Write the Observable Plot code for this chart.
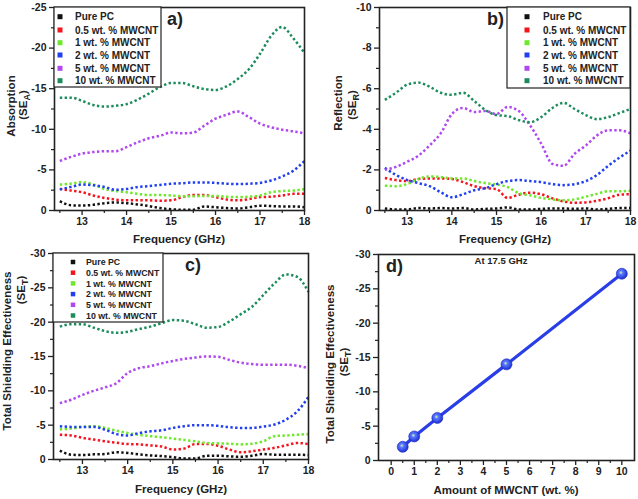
<!DOCTYPE html>
<html><head><meta charset="utf-8">
<script src="https://cdn.jsdelivr.net/npm/d3@7"></script>
<script src="https://cdn.jsdelivr.net/npm/@observablehq/plot@0.6"></script>
<style>
body{margin:0;background:#fff;}
#wrap{position:relative;width:638px;height:499px;overflow:hidden;background:#fff;}
#wrap svg{position:absolute;}
</style></head><body><div id="wrap"></div>
<script>
// ---------- data ----------
const seriesNames = ["Pure PC","0.5 wt. % MWCNT","1 wt. % MWCNT","2 wt. % MWCNT","5 wt. % MWCNT","10 wt. % MWCNT"];
const seriesColors = ["#111111","#f5141e","#6ee82a","#2240f0","#b048f0","#1c8c5c"];
const freq = [12.5,12.75,13,13.25,13.5,13.75,14,14.25,14.5,14.75,15,15.25,15.5,15.75,16,16.25,16.5,16.75,17,17.25,17.5,17.75,18];
const freqTicks = [13,14,15,16,17,18];

// a) Absorption SE_A
const absPure = [-1.15,-0.65,-0.6,-0.7,-0.9,-1.0,-0.9,-0.75,-0.55,-0.3,-0.15,-0.1,-0.1,-0.5,-0.4,-0.3,-0.25,-0.4,-0.6,-0.55,-0.5,-0.5,-0.4];
const abs05 = [-2.65,-2.45,-2.25,-1.85,-1.55,-1.35,-1.25,-1.25,-1.25,-1.2,-1.25,-1.65,-1.9,-1.9,-1.65,-1.35,-1.25,-1.4,-1.65,-1.7,-1.85,-2.05,-2.05];
const abs1 = [-3.2,-3.3,-3.5,-3.2,-2.65,-2.4,-2.25,-2.05,-1.9,-1.9,-1.85,-1.75,-1.75,-1.8,-1.8,-1.7,-1.65,-1.7,-1.85,-2.25,-2.4,-2.45,-2.65];
const abs2 = [-2.6,-2.9,-3.2,-3.1,-2.9,-2.55,-2.65,-2.9,-3.0,-3.15,-3.3,-3.35,-3.45,-3.45,-3.4,-3.3,-3.25,-3.3,-3.4,-3.7,-4.2,-4.9,-6.1];
const abs5 = [-6.1,-6.6,-7.0,-7.2,-7.3,-7.3,-7.8,-8.4,-8.9,-9.2,-9.6,-9.5,-9.6,-10.45,-11.3,-11.8,-12.2,-11.5,-10.7,-10.25,-9.95,-9.75,-9.5];
const abs10 = [-13.9,-13.9,-13.5,-13.0,-12.8,-12.9,-13.1,-13.65,-14.4,-15.2,-15.7,-15.7,-15.3,-14.95,-14.85,-15.3,-16.2,-17.4,-19.3,-21.5,-22.6,-21.2,-19.4];

// b) Reflection SE_R
const refPure = [-0.1,-0.05,-0.05,-0.12,-0.1,-0.12,-0.1,-0.12,-0.05,-0.08,-0.1,-0.15,-0.05,-0.05,-0.08,-0.1,-0.1,-0.08,-0.1,-0.05,-0.08,-0.12,-0.12];
const ref05 = [-1.6,-1.5,-1.45,-1.55,-1.58,-1.58,-1.55,-1.4,-1.2,-1.1,-1.05,-0.62,-0.78,-0.88,-0.8,-0.6,-0.45,-0.38,-0.4,-0.48,-0.6,-0.78,-0.8];
const ref1 = [-1.22,-1.2,-1.3,-1.55,-1.68,-1.65,-1.58,-1.58,-1.45,-1.35,-1.28,-1.15,-0.85,-0.75,-0.62,-0.55,-0.5,-0.55,-0.68,-0.82,-0.95,-0.95,-0.97];
const ref2 = [-2.1,-1.75,-1.5,-1.35,-1.2,-0.9,-0.65,-0.8,-1.0,-1.1,-1.3,-1.45,-1.5,-1.45,-1.4,-1.3,-1.25,-1.3,-1.45,-1.75,-2.2,-2.6,-2.95];
const ref5 = [-2.0,-2.15,-2.4,-2.7,-3.2,-3.8,-4.75,-5.05,-4.85,-4.9,-4.75,-5.1,-4.9,-4.2,-3.3,-2.3,-2.2,-2.8,-3.2,-3.7,-3.95,-3.95,-3.8];
const ref10 = [-5.45,-5.8,-6.2,-6.3,-6.1,-5.8,-5.7,-5.8,-5.4,-4.95,-4.7,-4.65,-4.45,-4.35,-4.6,-5.05,-5.3,-5.0,-4.7,-4.5,-4.6,-4.8,-5.0];

// c) Total shielding SE_T
const totPure = [-1.3,-0.7,-0.65,-0.75,-0.8,-1.05,-0.95,-0.75,-0.6,-0.5,-0.35,-0.15,-0.15,-0.55,-0.55,-0.45,-0.4,-0.55,-0.8,-0.7,-0.7,-0.7,-0.65];
const tot05 = [-3.6,-3.5,-3.15,-2.9,-2.65,-2.45,-2.25,-2.2,-2.05,-1.9,-1.45,-1.6,-2.25,-2.25,-2.0,-1.45,-1.05,-1.2,-1.45,-1.7,-2.05,-2.4,-2.25];
const tot1 = [-4.4,-4.5,-4.75,-4.85,-4.6,-4.2,-3.85,-3.6,-3.4,-3.25,-3.05,-2.85,-2.65,-2.4,-2.35,-2.3,-2.2,-2.3,-2.65,-3.4,-3.5,-3.6,-3.7];
const tot2 = [-4.85,-4.75,-4.75,-4.75,-4.35,-3.7,-3.5,-3.85,-4.1,-4.25,-4.6,-4.85,-5.0,-5.0,-4.9,-4.7,-4.6,-4.6,-4.8,-5.1,-5.8,-7.0,-9.1];
const tot5 = [-8.2,-8.7,-9.4,-10.0,-10.5,-11.1,-12.6,-13.3,-13.6,-14.0,-14.35,-14.65,-14.85,-15.0,-14.95,-14.5,-14.1,-13.9,-13.8,-13.8,-13.8,-13.65,-13.3];
const tot10 = [-19.35,-19.7,-19.7,-19.2,-18.7,-18.45,-18.6,-19.0,-19.35,-19.85,-20.3,-20.2,-19.7,-19.2,-19.3,-20.1,-21.15,-22.25,-23.95,-25.65,-26.95,-26.6,-24.4];

// d) SE_T at 17.5 GHz vs loading
const wtAmount = [0.5, 1, 2, 5, 10];
const seT175 = [-2.0, -3.5, -6.2, -14.0, -27.2];
const wtTicks = [0,1,2,3,4,5,6,7,8,9,10];

// ---------- drawing ----------
const FONT = '"Liberation Sans", Arial, Helvetica, sans-serif';
const INK = "#222";
const wrap = document.getElementById("wrap");

function axes(xTicks, xMinor, yTicks, yMinor) {
  const fmt = d => String(d);
  return [
    Plot.axisX({ticks: xTicks, tickSize: 5, tickPadding: 2, tickFormat: fmt, label: null, strokeWidth: 1.3}),
    Plot.axisX({ticks: xMinor, tickSize: 3, tickFormat: () => "", label: null, strokeWidth: 1.2}),
    Plot.axisY({ticks: yTicks, tickSize: 5, tickPadding: 3, tickFormat: fmt, label: null, strokeWidth: 1.3}),
    Plot.axisY({ticks: yMinor, tickSize: 3, tickFormat: () => "", label: null, strokeWidth: 1.2})
  ];
}

function seriesLines(xs, list) {
  return list.map((vals, i) => Plot.line(vals.map((v, j) => ({f: xs[j], v, s: seriesNames[i]})), {
    x: "f", y: "v", stroke: seriesColors[i], strokeWidth: 2.5,
    strokeDasharray: "2.4,2.4", strokeLinecap: "butt", curve: "monotone-x"
  }));
}

function place(svg, left, top) {
  svg.style.left = left + "px";
  svg.style.top = top + "px";
  wrap.appendChild(svg);
  return d3.select(svg);
}

function yTitle(sel, x1, y1, line1, x2, y2, sub) {
  sel.append("text").attr("transform", `translate(${x1},${y1}) rotate(-90)`)
    .attr("text-anchor", "middle").attr("dy", "0.35em")
    .style("font", `bold 11.5px ${FONT}`).attr("fill", INK).text(line1);
  const t = sel.append("text").attr("transform", `translate(${x2},${y2}) rotate(-90)`)
    .attr("text-anchor", "middle").attr("dy", "0.35em")
    .style("font", `bold 11.5px ${FONT}`).attr("fill", INK);
  t.append("tspan").text("(SE");
  t.append("tspan").attr("dy", "3").style("font-size", "9px").text(sub);
  t.append("tspan").attr("dy", "-3").text(")");
}

function xTitle(sel, x, y, label) {
  sel.append("text").attr("x", x).attr("y", y).attr("text-anchor", "middle")
    .style("font", `bold 11.5px ${FONT}`).attr("fill", INK).text(label);
}

function panelLabel(sel, x, y, label, size) {
  sel.append("text").attr("x", x).attr("y", y).attr("text-anchor", "start")
    .style("font", `bold ${size}px ${FONT}`).attr("fill", INK).text(label);
}

function legend(sel, box, markX, textX, rowY, fontSize, mark) {
  const g = sel.append("g").attr("text-anchor", "start");
  g.append("rect").attr("x", box[0]).attr("y", box[1]).attr("width", box[2]).attr("height", box[3])
    .attr("fill", "#fff").attr("stroke", INK).attr("stroke-width", 1.2);
  seriesNames.forEach((n, i) => {
    g.append("rect").attr("x", markX - mark / 2).attr("y", rowY[i] - mark / 2)
      .attr("width", mark).attr("height", mark).attr("fill", seriesColors[i]);
    g.append("text").attr("x", textX).attr("y", rowY[i]).attr("dy", "0.36em")
      .attr("text-anchor", "start")
      .style("font", `bold ${fontSize}px ${FONT}`).attr("fill", INK).text(n);
  });
}

const baseStyle = {fontFamily: FONT, fontSize: "10.5px", fontWeight: "bold", color: INK, background: "transparent", overflow: "visible"};
const fMinor = [12.5,13.5,14.5,15.5,16.5,17.5];

// ---- panel a ----
{
  const svg = Plot.plot({
    width: 319, height: 250, marginLeft: 54, marginRight: 15, marginTop: 7, marginBottom: 40,
    style: baseStyle,
    x: {domain: [12.38, 18]}, y: {domain: [0, -25]},
    marks: [
      ...seriesLines(freq, [absPure, abs05, abs1, abs2, abs5, abs10]),
      ...axes(freqTicks, fMinor, [-25,-20,-15,-10,-5,0], [-22.5,-17.5,-12.5,-7.5,-2.5]),
      Plot.frame({stroke: INK, strokeWidth: 1.6})
    ]
  });
  const s = place(svg, 0, 0);
  legend(s, [54, 7, 107, 80], 60, 75, [16.7, 30, 42.7, 55, 68.3, 80.7], 10, 5);
  panelLabel(s, 167, 25, "a)", 18);
  yTitle(s, 11, 106, "Absorption", 23, 105, "A");
  xTitle(s, 179, 243, "Frequency (GHz)");
}

// ---- panel b ----
{
  const svg = Plot.plot({
    width: 319, height: 250, marginLeft: 60, marginRight: 8, marginTop: 7, marginBottom: 40,
    style: baseStyle,
    x: {domain: [12.38, 18]}, y: {domain: [0, -10]},
    marks: [
      ...seriesLines(freq, [refPure, ref05, ref1, ref2, ref5, ref10]),
      ...axes(freqTicks, fMinor, [-10,-8,-6,-4,-2,0], [-9,-7,-5,-3,-1]),
      Plot.frame({stroke: INK, strokeWidth: 1.6})
    ]
  });
  const s = place(svg, 319, 0);
  legend(s, [188, 7, 123, 81], 208, 224, [16.7, 30, 42.7, 55, 68.3, 80.7], 10, 5);
  panelLabel(s, 168, 25, "b)", 18);
  yTitle(s, 19, 103, "Reflection", 33, 105, "R");
  xTitle(s, 186, 243, "Frequency (GHz)");
}

// ---- panel c ----
{
  const svg = Plot.plot({
    width: 319, height: 250, marginLeft: 53, marginRight: 11, marginTop: 4, marginBottom: 40,
    style: baseStyle,
    x: {domain: [12.36, 18]}, y: {domain: [0, -30]},
    marks: [
      ...seriesLines(freq, [totPure, tot05, tot1, tot2, tot5, tot10]),
      ...axes(freqTicks, fMinor, [-30,-25,-20,-15,-10,-5,0], [-27.5,-22.5,-17.5,-12.5,-7.5,-2.5]),
      Plot.frame({stroke: INK, strokeWidth: 1.6})
    ]
  });
  const s = place(svg, 0, 249);
  legend(s, [53, 4, 110, 69], 73, 86, [13, 23.7, 34.4, 45.1, 55.8, 66.5], 8.8, 4.5);
  panelLabel(s, 185, 22, "c)", 18);
  yTitle(s, 7, 102, "Total Shielding Effectiveness", 21, 41, "T");
  xTitle(s, 181, 244, "Frequency (GHz)");
}

// ---- panel d ----
{
  const pts = wtAmount.map((w, i) => ({w, v: seT175[i]}));
  const svg = Plot.plot({
    width: 319, height: 250, marginLeft: 59, marginRight: 4, marginTop: 5, marginBottom: 39,
    style: baseStyle,
    x: {domain: [-0.55, 10.55]}, y: {domain: [0, -30]},
    marks: [
      Plot.line(pts, {x: "w", y: "v", stroke: "#2a3ee8", strokeWidth: 3.2}),
      Plot.dot(pts, {x: "w", y: "v", r: 5.5, fill: "url(#sphereGrad)", stroke: "#1a2ab8", strokeWidth: 0.6}),
      ...axes(wtTicks, [0.5,1.5,2.5,3.5,4.5,5.5,6.5,7.5,8.5,9.5], [-30,-25,-20,-15,-10,-5,0], [-27.5,-22.5,-17.5,-12.5,-7.5,-2.5]),
      Plot.frame({stroke: INK, strokeWidth: 1.6})
    ]
  });
  const s = place(svg, 319, 249);
  const grad = s.insert("defs", ":first-child").append("radialGradient")
    .attr("id", "sphereGrad").attr("cx", "0.42").attr("cy", "0.4").attr("r", "0.62");
  grad.append("stop").attr("offset", "0%").attr("stop-color", "#d4f7a8");
  grad.append("stop").attr("offset", "28%").attr("stop-color", "#5a78ff");
  grad.append("stop").attr("offset", "100%").attr("stop-color", "#1a2bd0");
  panelLabel(s, 67, 23, "d)", 18);
  s.append("text").attr("x", 182).attr("y", 15).attr("text-anchor", "middle")
    .style("font", `bold 9.5px ${FONT}`).attr("fill", INK).text("At 17.5 GHz");
  yTitle(s, 11, 115, "Total Shielding Effectiveness", 25, 113, "T");
  xTitle(s, 187, 245, "Amount of MWCNT (wt. %)");
}
</script></body></html>
